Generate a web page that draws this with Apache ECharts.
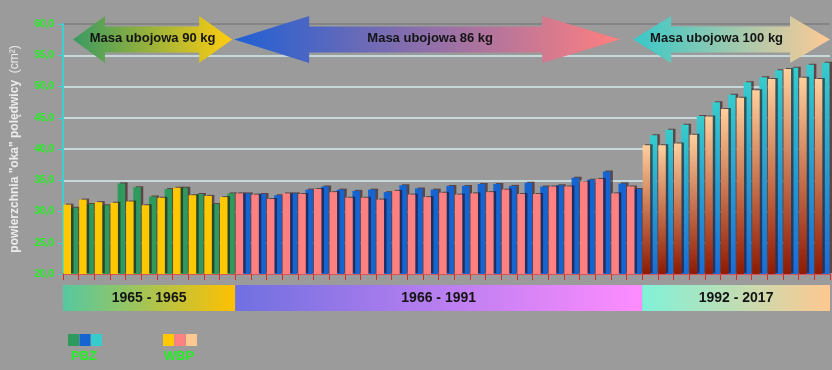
<!DOCTYPE html>
<html>
<head>
<meta charset="utf-8">
<script src="https://cdn.jsdelivr.net/npm/echarts@6/dist/echarts.min.js"></script>
<style>
  html, body { margin: 0; padding: 0; background: #9b9b9b; }
  #chart { width: 832px; height: 370px; }
</style>
</head>
<body>
<div id="chart"></div>
<script>
// okresy (pasek pod osią) i strzałki u góry
const periods = ['1965 - 1965', '1966 - 1991', '1992 - 2017']
const arrowTexts = ['Masa ubojowa 90 kg', 'Masa ubojowa 86 kg', 'Masa ubojowa 100 kg']

// WBP = pierwszy słupek (z przodu), PBZ = drugi (z tyłu)
const wbp90 = [31.1, 31.9, 31.5, 31.4, 31.6, 31.0, 32.2, 33.8, 32.6, 32.5, 32.3]
const pbz90 = [30.6, 31.2, 31.0, 34.5, 33.9, 32.4, 33.6, 33.8, 32.8, 31.2, 32.9]

const wbp86 = [32.9, 32.7, 32.0, 32.9, 32.8, 33.6, 33.1, 32.2, 32.2, 31.9, 33.3, 32.7, 32.3,
               33.0, 32.7, 32.9, 33.1, 33.5, 32.8, 32.8, 34.0, 34.0, 34.8, 35.2, 32.9, 34.0]
const pbz86 = [32.9, 32.8, 32.6, 32.9, 33.5, 34.0, 33.5, 33.3, 33.5, 33.1, 34.2, 33.7, 33.5,
               34.1, 34.1, 34.4, 34.4, 34.1, 34.6, 34.0, 34.2, 35.4, 35.1, 36.4, 34.5, 33.6]

const wbp100 = [40.6, 40.6, 40.9, 42.3, 45.2, 46.4, 48.2, 49.4, 51.2, 52.8, 51.4, 51.2]
const pbz100 = [42.2, 43.1, 43.9, 45.3, 47.5, 48.7, 50.7, 51.5, 52.6, 53.0, 53.5, 53.8]

const groupsWbp = [wbp90, wbp86, wbp100]
const groupsPbz = [pbz90, pbz86, pbz100]

const grad = (top, bottom) => new echarts.graphic.LinearGradient(0, 0, 0, 1, [
  { offset: 0, color: top }, { offset: 1, color: bottom }
])

const wbpColors = ['#ffc800', '#ff8080', grad('#ffcf9c', '#8e1a04')]
const pbzColors = ['#2f9a5e', '#1464d2', grad('#36cccc', '#1a6cd6')]
const legendPbz = ['#2f9a5e', '#1464d2', '#36cccc']
const legendWbp = ['#ffc800', '#ff8080', '#ffc890']

const bandColors = [
  ['#55c8a0', '#ffc000'],
  ['#7070e0', '#ff8cff'],
  ['#80f2d8', '#ffc890']
]
const arrowColors = [
  ['#3a9a62', '#ffcc10'],
  ['#2060d4', '#ff7f7f'],
  ['#38c8c8', '#ffca96']
]

const categories = []
const wbpData = []
const pbzData = []
const bounds = []
groupsWbp.forEach((g, gi) => {
  bounds.push([categories.length, categories.length + g.length - 1])
  g.forEach((v, i) => {
    categories.push(periods[gi] + '#' + (i + 1))
    wbpData.push({ value: v, itemStyle: { color: wbpColors[gi] } })
    pbzData.push({ value: groupsPbz[gi][i], itemStyle: { color: pbzColors[gi] } })
  })
})

const chart = echarts.init(document.getElementById('chart'))
const green = '#22f022'

const shadow = {
  shadowColor: 'rgba(40,0,0,0.55)',
  shadowOffsetX: 2.5,
  shadowOffsetY: -1,
  shadowBlur: 0
}

chart.setOption({
  backgroundColor: '#9b9b9b',
  animation: false,
  textStyle: { fontFamily: 'Liberation Sans, Arial, sans-serif' },
  grid: { left: 63, right: 2, top: 24, bottom: 96 },
  xAxis: {
    type: 'category',
    data: categories,
    axisLine: { lineStyle: { color: '#e02828', width: 1.5 } },
    axisTick: { show: true, interval: 0, length: 6, lineStyle: { color: '#e02828' } },
    axisLabel: { show: false },
    splitLine: { show: false }
  },
  yAxis: {
    type: 'value',
    min: 20,
    max: 60,
    interval: 5,
    name: '{b|powierzchnia "oka" polędwicy}  {n|(cm²)}',
    nameLocation: 'middle',
    nameRotate: 90,
    nameGap: 42,
    nameTextStyle: {
      rich: {
        b: { color: '#ececec', fontSize: 12, fontWeight: 'bold' },
        n: { color: '#ececec', fontSize: 12 }
      }
    },
    axisLine: { show: true, lineStyle: { color: '#3ed0d0', width: 2 } },
    axisTick: { show: true, length: 5, lineStyle: { color: '#3ed0d0' } },
    axisLabel: {
      color: green,
      fontSize: 10,
      fontWeight: 'bold',
      margin: 9,
      formatter: v => v.toFixed(1).replace('.', ',')
    },
    splitLine: {
      lineStyle: {
        color: ['#d4ecee', '#d4ecee', '#d4ecee', '#d4ecee', '#d4ecee', '#d4ecee', '#d4ecee', '#d4ecee', '#7e7e7e'],
        width: 1.5
      }
    }
  },
  series: [
    {
      name: 'WBP',
      type: 'bar',
      data: wbpData,
      barWidth: 7.5,
      barGap: '-4%',
      z: 3,
      itemStyle: shadow
    },
    {
      name: 'PBZ',
      type: 'bar',
      data: pbzData,
      barWidth: 7.5,
      z: 2,
      itemStyle: shadow
    }
  ]
})

// dekoracje: strzałki, paski okresów, legenda
const cx = i => chart.convertToPixel({ xAxisIndex: 0 }, i)
const band = cx(1) - cx(0)
const segX = bounds.map(([a, b]) => [cx(a) - band / 2, cx(b) + band / 2])

const arrowLayout = [
  { l: 10, r: -3, hl: 32, hr: 33, tx: 0 },
  { l: -1, r: -22, hl: 75, hr: 78, tx: 3 },
  { l: -9, r: 0, hl: 38, hr: 40, tx: -15 }
]

const doubleArrow = (x1, x2, hl, hr, yc) => {
  const hh = 23.5, sh = 13
  return [
    [x1, yc], [x1 + hl, yc - hh], [x1 + hl, yc - sh], [x2 - hr, yc - sh], [x2 - hr, yc - hh],
    [x2, yc], [x2 - hr, yc + hh], [x2 - hr, yc + sh], [x1 + hl, yc + sh], [x1 + hl, yc + hh]
  ]
}

const graphics = []
segX.forEach(([x1, x2], i) => {
  const a = arrowLayout[i]
  const ax1 = x1 + a.l
  const ax2 = x2 + a.r
  graphics.push({
    type: 'polygon',
    shape: { points: doubleArrow(ax1, ax2, a.hl, a.hr, 39.5) },
    style: {
      fill: new echarts.graphic.LinearGradient(0, 0, 1, 0, [
        { offset: 0, color: arrowColors[i][0] }, { offset: 1, color: arrowColors[i][1] }
      ])
    },
    z: 10
  })
  graphics.push({
    type: 'text',
    x: (ax1 + ax2) / 2 + a.tx,
    y: 38,
    style: {
      text: arrowTexts[i], fill: '#141414', font: 'bold 13px Liberation Sans, Arial',
      align: 'center', verticalAlign: 'middle'
    },
    z: 11
  })
  graphics.push({
    type: 'rect',
    shape: { x: x1, y: 285, width: x2 - x1, height: 26 },
    style: {
      fill: new echarts.graphic.LinearGradient(0, 0, 1, 0, [
        { offset: 0, color: bandColors[i][0] }, { offset: 1, color: bandColors[i][1] }
      ])
    },
    z: 10
  })
  graphics.push({
    type: 'text',
    x: (x1 + x2) / 2,
    y: 298,
    style: {
      text: periods[i], fill: '#141414', font: 'bold 14px Liberation Sans, Arial',
      align: 'center', verticalAlign: 'middle'
    },
    z: 11
  })
})

const legendItems = [
  { name: 'PBZ', colors: legendPbz, x: 68 },
  { name: 'WBP', colors: legendWbp, x: 163 }
]
legendItems.forEach(it => {
  it.colors.forEach((c, k) => {
    graphics.push({
      type: 'rect',
      shape: { x: it.x + k * 11.5, y: 334, width: 11, height: 12 },
      style: { fill: c },
      z: 10
    })
  })
  graphics.push({
    type: 'text',
    x: it.x + 16,
    y: 356,
    style: {
      text: it.name, fill: green, font: 'bold 13px Liberation Sans, Arial',
      align: 'center', verticalAlign: 'middle'
    },
    z: 11
  })
})

chart.setOption({ graphic: graphics })
</script>
</body>
</html>
